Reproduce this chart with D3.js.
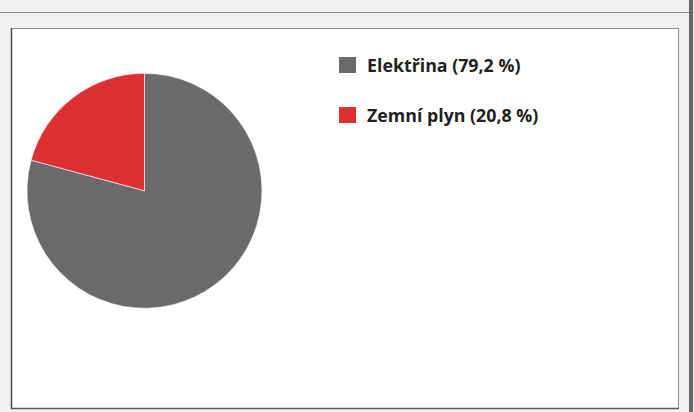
<!DOCTYPE html>
<html>
<head>
<meta charset="utf-8">
<script src="https://cdn.jsdelivr.net/npm/d3@7"></script>
<style>
  html, body { margin: 0; padding: 0; background: #f0f1f3; }
  svg { display: block; }
</style>
</head>
<body>
<svg id="chart" width="694" height="412"></svg>
<script>
// Energy sources and their shares (%)
const categories = ["Elektřina", "Zemní plyn"];
const shares = [79.2, 20.8];
const colors = ["#6a6a6c", "#dc3033"];

const svg = d3.select("#chart");

// Panel frame
svg.append("rect").attr("x", 0).attr("y", 0).attr("width", 694).attr("height", 412).attr("fill", "#f0f1f3");
svg.append("line").attr("x1", 0).attr("x2", 690).attr("y1", 12.5).attr("y2", 12.5)
  .attr("stroke", "#8a8a8a").attr("stroke-width", 1.2);
svg.append("rect").attr("x", 689).attr("y", 0).attr("width", 4).attr("height", 412).attr("fill", "#666668");

// White chart box
svg.append("rect").attr("x", 11.5).attr("y", 28.5).attr("width", 667).attr("height", 380)
  .attr("fill", "#ffffff").attr("stroke", "#8c8c8c").attr("stroke-width", 1);
svg.append("line").attr("x1", 11.5).attr("x2", 11.5).attr("y1", 28).attr("y2", 409)
  .attr("stroke", "#4a4a4a").attr("stroke-width", 1.5);
svg.append("line").attr("x1", 11).attr("x2", 679).attr("y1", 408.5).attr("y2", 408.5)
  .attr("stroke", "#5a5a5a").attr("stroke-width", 1.5);

// Pie
const data = categories.map((c, i) => ({ name: c, value: shares[i], color: colors[i] }));
const pie = d3.pie().sort(null).value(d => d.value);
const arc = d3.arc().innerRadius(0).outerRadius(117.5);

svg.append("g")
  .attr("transform", "translate(144.5,190.8)")
  .selectAll("path")
  .data(pie(data))
  .join("path")
  .attr("d", arc)
  .attr("fill", d => d.data.color)
  .attr("stroke", "#ffffff")
  .attr("stroke-width", 0.6);

// Legend
const fmt = v => d3.format(".1f")(v).replace(".", ",");
const legend = svg.append("g").attr("transform", "translate(339,57)");
const item = legend.selectAll("g")
  .data(data)
  .join("g")
  .attr("transform", (d, i) => `translate(0,${i * 50})`);
item.append("rect")
  .attr("width", 17).attr("height", 16)
  .attr("fill", d => d.color);
item.append("text")
  .attr("x", 28).attr("y", 14.8)
  .attr("font-family", "'Open Sans', 'Noto Sans', sans-serif")
  .attr("font-weight", "bold")
  .attr("font-size", 17.8)
  .attr("fill", "#231f20")
  .text(d => `${d.name} (${fmt(d.value)} %)`);
</script>
</body>
</html>
